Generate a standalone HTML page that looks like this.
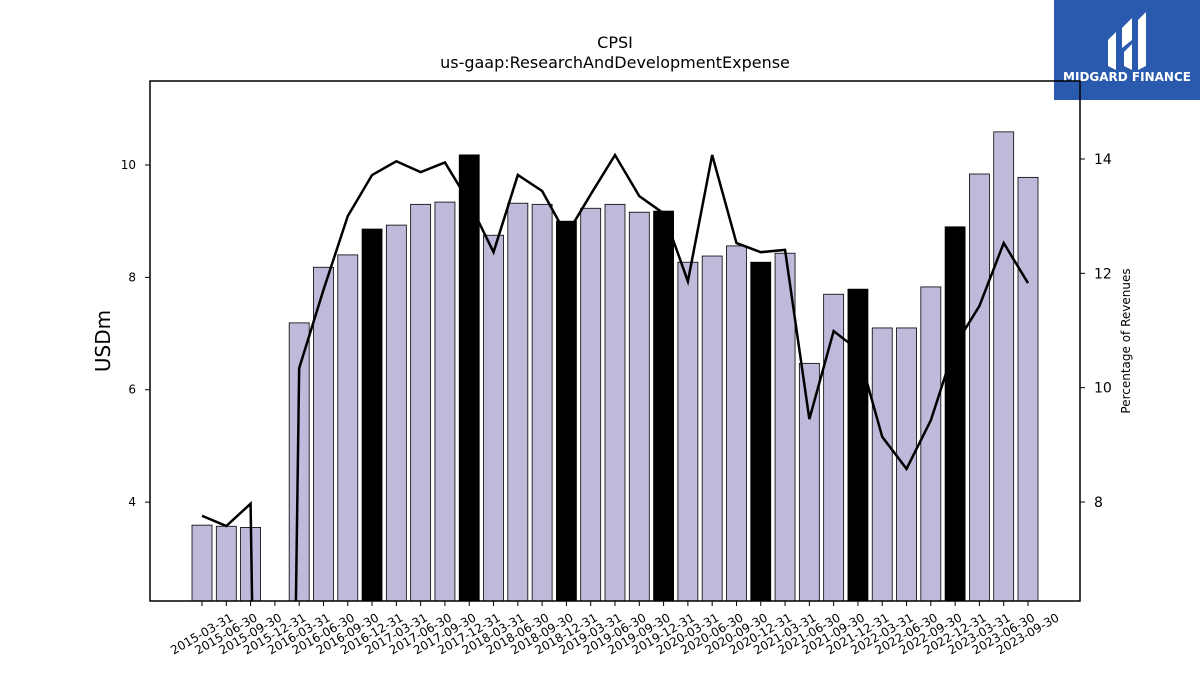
<!DOCTYPE html>
<html><head><meta charset="utf-8"><style>
html,body{margin:0;background:#fff;font-family:"Liberation Sans","DejaVu Sans",sans-serif;overflow:hidden;width:1200px;height:675px}
svg{display:block}
</style></head><body>
<svg id="chart" width="1200" height="675" xmlns="http://www.w3.org/2000/svg" font-family="'DejaVu Sans','Liberation Sans',sans-serif">
<text x="615" y="48" text-anchor="middle" font-size="16">CPSI</text>
<text x="615" y="68" text-anchor="middle" font-size="16">us-gaap:ResearchAndDevelopmentExpense</text>
<g>
<rect x="1054" y="0" width="146" height="100" fill="#2a5aad"/>
<path d="M1108 40 L1116 32 L1116 70 L1108 66 Z M1122 28 L1132 18 L1132 40 L1122 48 Z M1124 52 L1132 44 L1132 70 L1124 66 Z M1138 20 L1146 12 L1146 66 L1138 70 Z" fill="#fff"/>
<text x="1127" y="81" text-anchor="middle" font-size="12" font-weight="bold" fill="#fff">MIDGARD FINANCE</text>
</g>
<defs><clipPath id="plotclip"><rect x="150" y="81" width="930" height="520"/></clipPath></defs>
<g id="bars" clip-path="url(#plotclip)"></g>
<g id="line" clip-path="url(#plotclip)"></g>
<rect x="150" y="81" width="930" height="520" fill="none" stroke="#000" stroke-width="1.5"/>
<g id="axes"></g>
<text transform="translate(110,341) rotate(-90)" text-anchor="middle" font-size="20">USDm</text>
<text transform="translate(1130,341) rotate(-90)" text-anchor="middle" font-size="12">Percentage of Revenues</text>
</svg>
<script>
const categories=["2015-03-31","2015-06-30","2015-09-30","2015-12-31","2016-03-31","2016-06-30","2016-09-30","2016-12-31","2017-03-31","2017-06-30","2017-09-30","2017-12-31","2018-03-31","2018-06-30","2018-09-30","2018-12-31","2019-03-31","2019-06-30","2019-09-30","2019-12-31","2020-03-31","2020-06-30","2020-09-30","2020-12-31","2021-03-31","2021-06-30","2021-09-30","2021-12-31","2022-03-31","2022-06-30","2022-09-30","2022-12-31","2023-03-31","2023-06-30","2023-09-30"];
const rdValues=[3.59,3.57,3.55,null,7.19,8.18,8.40,8.86,8.93,9.30,9.34,10.18,8.75,9.32,9.30,9.00,9.23,9.30,9.16,9.18,8.27,8.38,8.56,8.27,8.43,6.47,7.70,7.79,7.10,7.10,7.83,8.90,9.84,10.59,9.78];
const pctValues=[7.76,7.58,7.97,-20,10.34,11.71,13.0,13.72,13.96,13.77,13.94,13.24,12.37,13.72,13.44,12.67,13.38,14.07,13.35,13.05,11.86,14.07,12.53,12.37,12.41,9.45,10.99,10.66,9.14,8.58,9.43,10.74,11.43,12.53,11.83];
const leftTicks=[4,6,8,10];
const rightTicks=[8,10,12,14];
const NS="http://www.w3.org/2000/svg";
function mk(t,a,p){const e=document.createElementNS(NS,t);for(const k in a)e.setAttribute(k,a[k]);p.appendChild(e);return e;}
const x=i=>202+i*(1028-202)/34;
const yL=v=>601-(v-2.24)*(601-165)/(10-2.24);
const yR=v=>502-(v-8)*(502-159)/6;
const bars=document.getElementById('bars'),line=document.getElementById('line'),axes=document.getElementById('axes');
rdValues.forEach((v,i)=>{if(v==null)return;
 const dark=categories[i].endsWith('12-31');
 const r=mk('rect',{x:x(i)-10,y:yL(v),width:20,height:601-yL(v),fill:dark?'#000':'#bebada',stroke:'#000','stroke-width':0.8},bars);
 
 
});
const pl=mk('polyline',{points:pctValues.map((v,i)=>x(i)+','+yR(v)).join(' '),fill:'none',stroke:'#000','stroke-width':2.5},line);


leftTicks.forEach(t=>{const y=yL(t);mk('line',{x1:145,x2:150,y1:y,y2:y,stroke:'#000'},axes);
 const tx=mk('text',{x:136,y:y+4,'text-anchor':'end','font-size':12},axes);tx.textContent=t;
 
 });
rightTicks.forEach(t=>{const y=yR(t);mk('line',{x1:1080,x2:1085,y1:y,y2:y,stroke:'#000'},axes);
 const tx=mk('text',{x:1094,y:y+5,'font-size':14},axes);tx.textContent=t;
 
 });
categories.forEach((c,i)=>{const xx=x(i);mk('line',{x1:xx,x2:xx,y1:601,y2:606,stroke:'#000'},axes);
 const tx=mk('text',{transform:`translate(${xx+32},${620}) rotate(-30)`,'text-anchor':'end','font-size':12},axes);tx.textContent=c;
 
 });
</script>
</body></html>
